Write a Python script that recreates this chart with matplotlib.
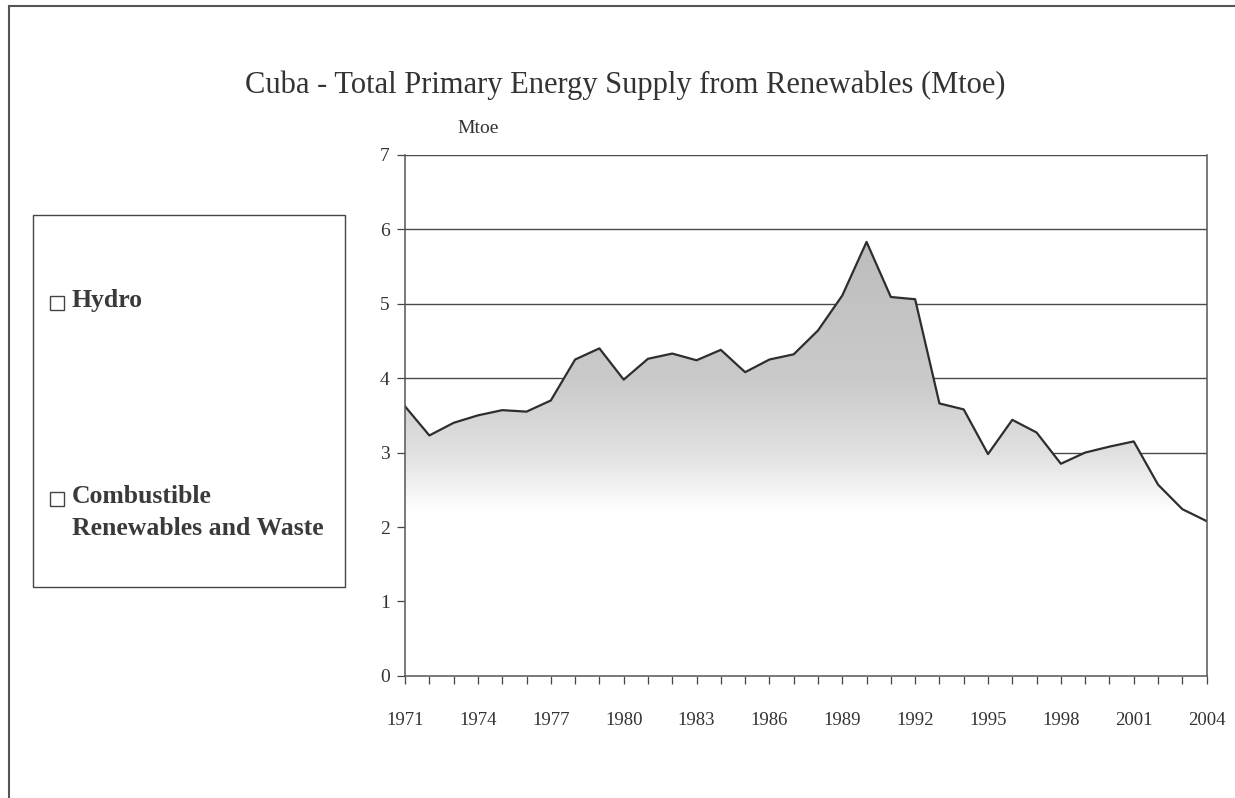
import numpy as np
import matplotlib
matplotlib.use("Agg")
import matplotlib.pyplot as plt
from matplotlib.patches import Rectangle, Polygon
from matplotlib.colors import LinearSegmentedColormap

plt.rcParams['font.family'] = ['Liberation Serif', 'DejaVu Serif']

years = list(range(1971, 2005))
hydro = [0.01, 0.01, 0.01, 0.01, 0.01, 0.01, 0.01, 0.01, 0.01, 0.01,
         0.01, 0.01, 0.01, 0.01, 0.01, 0.01, 0.01, 0.01, 0.01, 0.01,
         0.01, 0.01, 0.01, 0.01, 0.01, 0.01, 0.01, 0.01, 0.01, 0.01,
         0.01, 0.01, 0.01, 0.01]
combustible = [3.61, 3.22, 3.39, 3.49, 3.56, 3.54, 3.69, 4.24, 4.39, 3.97,
               4.25, 4.32, 4.23, 4.37, 4.07, 4.24, 4.31, 4.63, 5.10, 5.82,
               5.08, 5.05, 3.65, 3.57, 2.97, 3.43, 3.26, 2.84, 2.99, 3.07,
               3.14, 2.56, 2.23, 2.07]
series_names = ["Hydro", "Combustible\nRenewables and Waste"]
title = "Cuba - Total Primary Energy Supply from Renewables (Mtoe)"

x = np.array(years)
h = np.array(hydro)
total = h + np.array(combustible)

fig = plt.figure(figsize=(12.35, 7.98), dpi=100)
ax = fig.add_axes([0.328, 0.153, 0.649, 0.653])

# gridlines behind the area
for v in range(1, 8):
    ax.axhline(v, color='#4a4a4a', lw=1.0, zorder=1)

# hydro band (white) and combustible band with vertical grey gradient
ax.fill_between(x, 0, h, color='white', zorder=2)
poly = Polygon(np.column_stack([np.r_[x, x[::-1]], np.r_[total, h[::-1]]]),
               closed=True, facecolor='none', edgecolor='none')
ax.add_patch(poly)
cmap = LinearSegmentedColormap.from_list(
    'fade', [(0.0, '#ffffff'), (2.2 / 7, '#ffffff'), (3.0 / 7, '#e0e0e0'),
             (4.0 / 7, '#cacaca'), (6.0 / 7, '#bcbcbc'), (1.0, '#b9b9b9')])
grad = np.linspace(0, 1, 400).reshape(-1, 1)
im = ax.imshow(grad, extent=[x[0], x[-1], 0, 7], origin='lower',
               cmap=cmap, aspect='auto', zorder=3, interpolation='bilinear')
im.set_clip_path(poly)
ax.plot(x, total, color='#2e2e2e', lw=1.6, zorder=4)

ax.set_xlim(1971, 2004)
ax.set_ylim(0, 7)
ax.set_yticks(range(0, 8))
ax.set_xticks(years)
ax.set_xticklabels([str(y) if (y - 1971) % 3 == 0 else '' for y in years])
ax.tick_params(axis='x', direction='out', length=6, width=0.9, color='#444',
               pad=20, labelsize=13.5, labelcolor='#333')
ax.tick_params(axis='y', direction='out', length=6, width=0.9, color='#444',
               pad=5, labelsize=14, labelcolor='#333')
for s in ['left', 'bottom', 'right']:
    ax.spines[s].set_color('#555')
    ax.spines[s].set_linewidth(1.1)
    ax.spines[s].set_zorder(10)
ax.spines['top'].set_visible(False)

ax.text(0.091, 1.035, "Mtoe", transform=ax.transAxes, fontsize=14,
        color='#333', ha='center', va='bottom')

fig.text(0.506, 0.893, title, fontsize=22, color='#333', ha='center',
         va='center')

# legend box
fig.patches.append(Rectangle((33 / 1235, 1 - 587 / 798), 312 / 1235, 372 / 798,
                             transform=fig.transFigure, facecolor='white',
                             edgecolor='#444', lw=1.0))
legend_y = [302, 498]
for name, yy in zip(series_names, legend_y):
    fig.patches.append(Rectangle((50 / 1235, 1 - (yy + 8) / 798), 14 / 1235,
                                 14 / 798, transform=fig.transFigure,
                                 facecolor='white', edgecolor='#444', lw=1.0))
    fig.text(72 / 1235, 1 - (yy - 13) / 798, name, fontsize=18.5,
             fontweight='bold', color='#3a3a3a', ha='left', va='top',
             linespacing=1.5)

# outer frame
fig.patches.append(Rectangle((9 / 1235, -0.01), 1.0, 1 - 6 / 798 + 0.01,
                             transform=fig.transFigure, facecolor='none',
                             edgecolor='#555', lw=1.5))

fig.savefig("out.png", dpi=100)
